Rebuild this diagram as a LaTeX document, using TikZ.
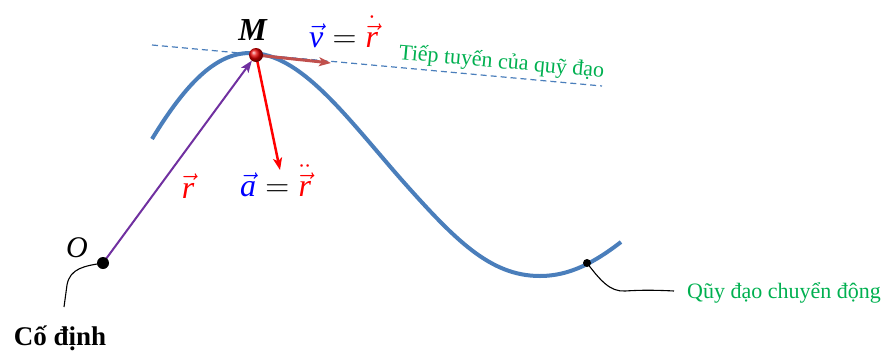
\documentclass[tikz,border=0pt]{standalone}
\usepackage{amsmath}
\usepackage{graphicx}
\usepackage{fontspec}
\setmainfont{Liberation Serif}
\usetikzlibrary{arrows.meta,calc}
\definecolor{curveblue}{HTML}{4A7EBB}
\definecolor{vpurple}{HTML}{7030A0}
\definecolor{vbrown}{HTML}{C0504D}
\definecolor{lgreen}{HTML}{00B050}
\newcommand{\vit}[1]{\vec{\text{\itshape #1}}}
\newcommand{\enlargelbl}[1]{\scalebox{1.6}{\fontsize{20}{22}\selectfont #1}}
\tikzset{
  vec/.style={-{Stealth[length=12pt,width=9pt,inset=3pt]}},
  lbl/.style={font=\fontsize{30}{32}\selectfont, inner sep=0pt},
  gtxt/.style={text=lgreen, font=\fontsize{22}{24}\selectfont, inner sep=0pt},
  leader/.style={black, line width=1.1pt}
}
\begin{document}
\begin{tikzpicture}[x=1pt,y=-1pt]
\useasboundingbox (0,0) rectangle (888,354);
% trajectory
\draw[curveblue, line width=4pt, line cap=butt] (152,139) .. controls (185,85) and (215,53) .. (250,53)
  .. controls (300,53) and (345,115) .. (400,178)
  .. controls (455,240) and (490,276) .. (540,276)
  .. controls (570,276) and (595,262) .. (621,242);
% tangent
\coordinate (t1) at (152,45);
\coordinate (t2) at (602,86);
\draw[curveblue, line width=1.2pt, dash pattern=on 6pt off 4pt] (t1) -- (t2);
% points
\coordinate (M) at (256,55);
\coordinate (O) at (103,263);
\coordinate (V) at (331,63);
\coordinate (A) at (280,170);
\coordinate (Q) at (587,263);
\draw[vpurple, line width=2pt, vec] (O) -- ($(M)!7pt!(O)$);
\draw[vbrown, line width=3pt, vec] (M) -- (V);
\draw[red, line width=2.5pt, vec] (M) -- (A);
\shade[ball color=red!90!black] (M) circle (7pt);
\fill (O) circle (6pt);
\fill (Q) circle (4pt);
% leaders
\coordinate (c1) at (64,307);
\coordinate (c2) at (674,291);
\draw[leader] (O) .. controls (85,266) and (70,268) .. (67,285) -- (c1);
\draw[leader] (Q) .. controls (600,280) and (610,292) .. (625,291) .. controls (640,290) and (655,290) .. (c2);
% labels
\node[lbl, font=\fontsize{32}{34}\selectfont] (Ml) at (253,30) {\textbf{\textit{M}}};
\node[lbl, anchor=west] (vl) at (309,32) {\enlargelbl{$\textcolor{blue}{\vit{v}} = \textcolor{red}{\dot{\vit{r}}}$}};
\node[lbl] (rl) at (188,186) {\enlargelbl{$\textcolor{red}{\vit{r}}$}};
\node[lbl, anchor=west] (al) at (240,181) {\enlargelbl{$\textcolor{blue}{\vit{a}} = \textcolor{red}{\ddot{\vit{r}}}$}};
\node[lbl] (Ol) at (77,248) {\textit{O}};
\node[gtxt, anchor=south west, rotate=-5.2] (tl) at (398,64) {Tiếp tuyến của quỹ đạo};
\node[gtxt, anchor=west] (ql) at (687,293) {Qũy đạo chuyển động};
\node[font=\bfseries\fontsize{27}{29}\selectfont, inner sep=0pt] (cd) at (60,338) {Cố định};
\end{tikzpicture}
\end{document}
